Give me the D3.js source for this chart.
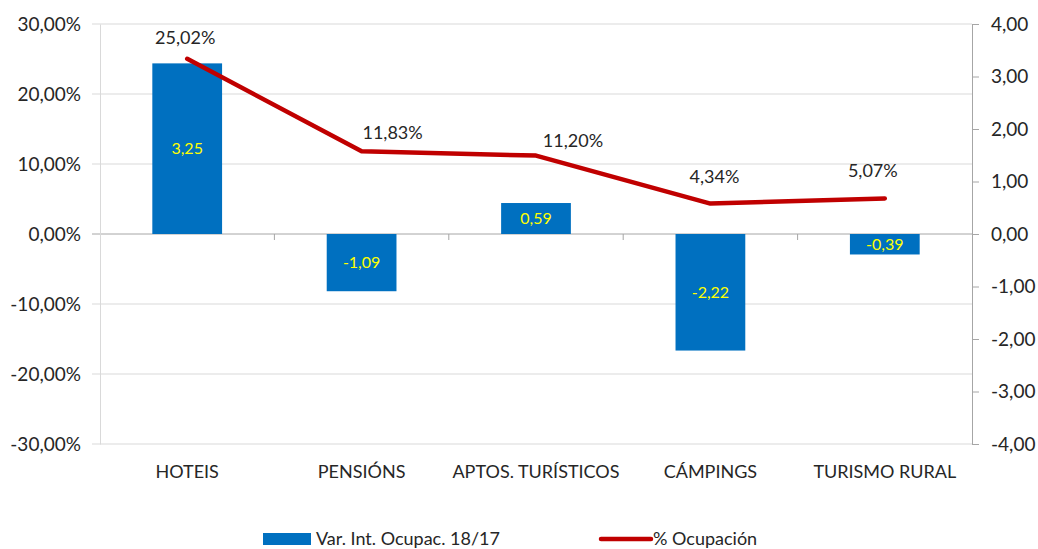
<!DOCTYPE html>
<html>
<head>
<meta charset="utf-8">
<script src="https://cdn.jsdelivr.net/npm/d3@7"></script>
<style>
  body { margin: 0; background: #fff; }
  svg text { font-family: Lato, "Liberation Sans", sans-serif; fill: #262626; }
</style>
</head>
<body>
<svg id="chart" width="1038" height="549"></svg>
<script>
// categories and series
const categories = ["HOTEIS", "PENSIÓNS", "APTOS. TURÍSTICOS", "CÁMPINGS", "TURISMO RURAL"];
const varOcupac = [3.25, -1.09, 0.59, -2.22, -0.39];        // right axis (bars)
const pctOcupacion = [0.2502, 0.1183, 0.1120, 0.0434, 0.0507]; // left axis (line)
const leftTicks = [-0.3, -0.2, -0.1, 0, 0.1, 0.2, 0.3];
const rightTicks = [-4, -3, -2, -1, 0, 1, 2, 3, 4];
const seriesNames = ["Var. Int. Ocupac. 18/17", "% Ocupación"];

// label nudges for the line labels (dx, dy from the point)
const lineLabelNudge = [[-2, -21], [31, -18], [37, -15], [4, -27], [-12, -28]];

const locale = d3.formatLocale({ decimal: ",", thousands: ".", grouping: [3], currency: ["", "€"], minus: "-" });
const fmtPct = locale.format(".2%");
const fmtNum = locale.format(".2f");

const svg = d3.select("#chart");
const plotL = 100, plotR = 972, plotT = 24, plotB = 444;

const x = d3.scaleBand().domain(categories).range([plotL, plotR]).paddingInner(0).paddingOuter(0);
const yL = d3.scaleLinear().domain([-0.3, 0.3]).range([plotB, plotT]);
const yR = d3.scaleLinear().domain([-4, 4]).range([plotB, plotT]);

// gridlines
svg.append("g").selectAll("line").data(leftTicks).enter().append("line")
    .attr("x1", plotL - 8).attr("x2", plotR)
    .attr("y1", d => yL(d)).attr("y2", d => yL(d))
    .attr("stroke", d => d === 0 ? "#A6A6A6" : "#D9D9D9").attr("stroke-width", 1);

// left axis
const axL = svg.append("g").attr("transform", `translate(${plotL},0)`)
    .call(d3.axisLeft(yL).tickValues(leftTicks).tickFormat(fmtPct).tickSize(0).tickPadding(19));
axL.select(".domain").attr("stroke", "#D9D9D9");
axL.selectAll("text").style("font-size", "19px").attr("fill", "#404040");

// right axis
const axR = svg.append("g").attr("transform", `translate(${plotR},0)`)
    .call(d3.axisRight(yR).tickValues(rightTicks).tickFormat(fmtNum).tickSize(7).tickPadding(12));
axR.select(".domain").attr("stroke", "#A6A6A6");
axR.selectAll(".tick line").attr("stroke", "#A6A6A6");
axR.selectAll("text").style("font-size", "19px").attr("fill", "#404040");

// category ticks on zero line
svg.append("g").selectAll("line").data(categories.slice(1)).enter().append("line")
    .attr("x1", d => x(d)).attr("x2", d => x(d))
    .attr("y1", yL(0)).attr("y2", yL(0) + 6)
    .attr("stroke", "#A6A6A6");

// category labels
svg.append("g").selectAll("text").data(categories).enter().append("text")
    .attr("x", d => x(d) + x.bandwidth() / 2).attr("y", 478)
    .attr("text-anchor", "middle").style("font-size", "18px")
    .text(d => d);

// bars
const barW = x.bandwidth() * 0.4;
svg.append("g").selectAll("rect").data(varOcupac).enter().append("rect")
    .attr("x", (d, i) => x(categories[i]) + (x.bandwidth() - barW) / 2)
    .attr("width", barW)
    .attr("y", d => Math.min(yR(d), yR(0)))
    .attr("height", d => Math.abs(yR(d) - yR(0)))
    .attr("fill", "#0070C0");

svg.append("g").selectAll("text").data(varOcupac).enter().append("text")
    .attr("x", (d, i) => x(categories[i]) + x.bandwidth() / 2)
    .attr("y", d => (yR(d) + yR(0)) / 2)
    .attr("dy", "0.35em")
    .attr("text-anchor", "middle").style("font-size", "16px")
    .style("fill", "#FFFF00")
    .text(d => fmtNum(d));

// line
const line = d3.line()
    .x((d, i) => x(categories[i]) + x.bandwidth() / 2)
    .y(d => yL(d));
svg.append("path").datum(pctOcupacion)
    .attr("d", line).attr("fill", "none")
    .attr("stroke", "#C00000").attr("stroke-width", 4.5)
    .attr("stroke-linecap", "round").attr("stroke-linejoin", "round");

svg.append("g").selectAll("text").data(pctOcupacion).enter().append("text")
    .attr("x", (d, i) => x(categories[i]) + x.bandwidth() / 2 + lineLabelNudge[i][0])
    .attr("y", (d, i) => yL(d) + lineLabelNudge[i][1])
    .attr("dy", "0.35em")
    .attr("text-anchor", "middle").style("font-size", "18px")
    .text(d => fmtPct(d));

// legend
const lg = svg.append("g");
lg.append("rect").attr("x", 263).attr("y", 533).attr("width", 48).attr("height", 12).attr("fill", "#0070C0");
lg.append("text").attr("x", 316).attr("y", 539).attr("dy", "0.35em").style("font-size", "18px").text(seriesNames[0]);
lg.append("line").attr("x1", 601).attr("x2", 651).attr("y1", 539).attr("y2", 539)
    .attr("stroke", "#C00000").attr("stroke-width", 4.5).attr("stroke-linecap", "round");
lg.append("text").attr("x", 653).attr("y", 539).attr("dy", "0.35em").style("font-size", "18px").text(seriesNames[1]);
</script>
</body>
</html>
